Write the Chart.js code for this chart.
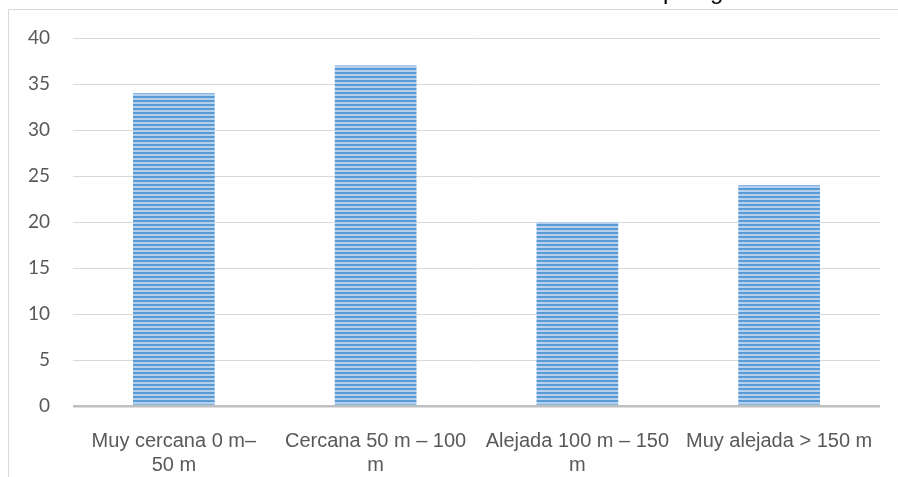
<!DOCTYPE html>
<html>
<head>
<meta charset="utf-8">
<script src="https://cdn.jsdelivr.net/npm/chart.js@4"></script>
<style>
    body { margin: 0; background: #ffffff; }
    #caja { width: 898px; height: 477px; position: relative; }
</style>
</head>
<body>
<div id="caja"><canvas id="grafico"></canvas></div>
<script>
// categorias y valores
const categorias = [
    ['Muy cercana 0 m–', '50 m'],
    ['Cercana 50 m – 100', 'm'],
    ['Alejada 100 m – 150', 'm'],
    'Muy alejada > 150 m'
];
const valores = [34, 37, 20, 24];
const ticksY = [0, 5, 10, 15, 20, 25, 30, 35, 40];

// patron de rayas horizontales para las barras
function crearRayas() {
    const c = document.createElement('canvas');
    c.width = 4;
    c.height = 4;
    const g = c.getContext('2d');
    g.fillStyle = '#b4d0ee';
    g.fillRect(0, 0, 4, 4);
    g.fillStyle = '#5b9bd5';
    g.fillRect(0, 0, 4, 2);
    return g.createPattern(c, 'repeat');
}

// marco gris y restos del titulo cortado arriba
const marco = {
    id: 'marco',
    beforeDraw(chart) {
        const ctx = chart.ctx;
        ctx.save();
        ctx.fillStyle = '#ffffff';
        ctx.fillRect(0, 0, chart.width, chart.height);
        ctx.strokeStyle = '#d9d9d9';
        ctx.lineWidth = 1;
        ctx.strokeRect(8.5, 9.5, 1000, 1000);
        ctx.fillStyle = '#000000';
        ctx.font = '24px "Liberation Sans"';
        ctx.textBaseline = 'alphabetic';
        ctx.fillText('p', 663, -1);
        ctx.fillText('g', 710, -1);
        ctx.restore();
    }
};

const config = {
    type: 'bar',
    data: {
        labels: categorias,
        datasets: [{
            data: valores,
            backgroundColor: crearRayas(),
            borderWidth: 0,
            categoryPercentage: 1,
            barPercentage: 0.405
        }]
    },
    options: {
        responsive: false,
        animation: false,
        layout: { padding: { top: 38, right: 18, left: 0, bottom: 0 } },
        plugins: { legend: { display: false }, tooltip: { enabled: false } },
        scales: {
            x: {
                grid: { display: false },
                border: { display: false },
                ticks: {
                    autoSkip: false,
                    maxRotation: 0,
                    padding: 15,
                    color: '#595959',
                    font: { family: 'Liberation Sans', size: 20, lineHeight: 1.2 }
                },
                afterFit(scale) { scale.height = 71; }
            },
            y: {
                min: 0,
                max: 40,
                afterBuildTicks(scale) { scale.ticks = ticksY.map(v => ({ value: v })); },
                grid: {
                    drawTicks: false,
                    color: ctx => ctx.tick && ctx.tick.value === 0 ? '#bfbfbf' : '#d9d9d9',
                    lineWidth: ctx => ctx.tick && ctx.tick.value === 0 ? 2.5 : 1
                },
                border: { display: false },
                ticks: {
                    padding: 23,
                    color: '#595959',
                    font: { family: 'Lato', size: 19 }
                },
                afterFit(scale) { scale.width = 73; }
            }
        }
    },
    plugins: [marco]
};

const canvas = document.getElementById('grafico');
canvas.width = 898;
canvas.height = 477;
let miGrafico = new Chart(canvas, config);
</script>
</body>
</html>
